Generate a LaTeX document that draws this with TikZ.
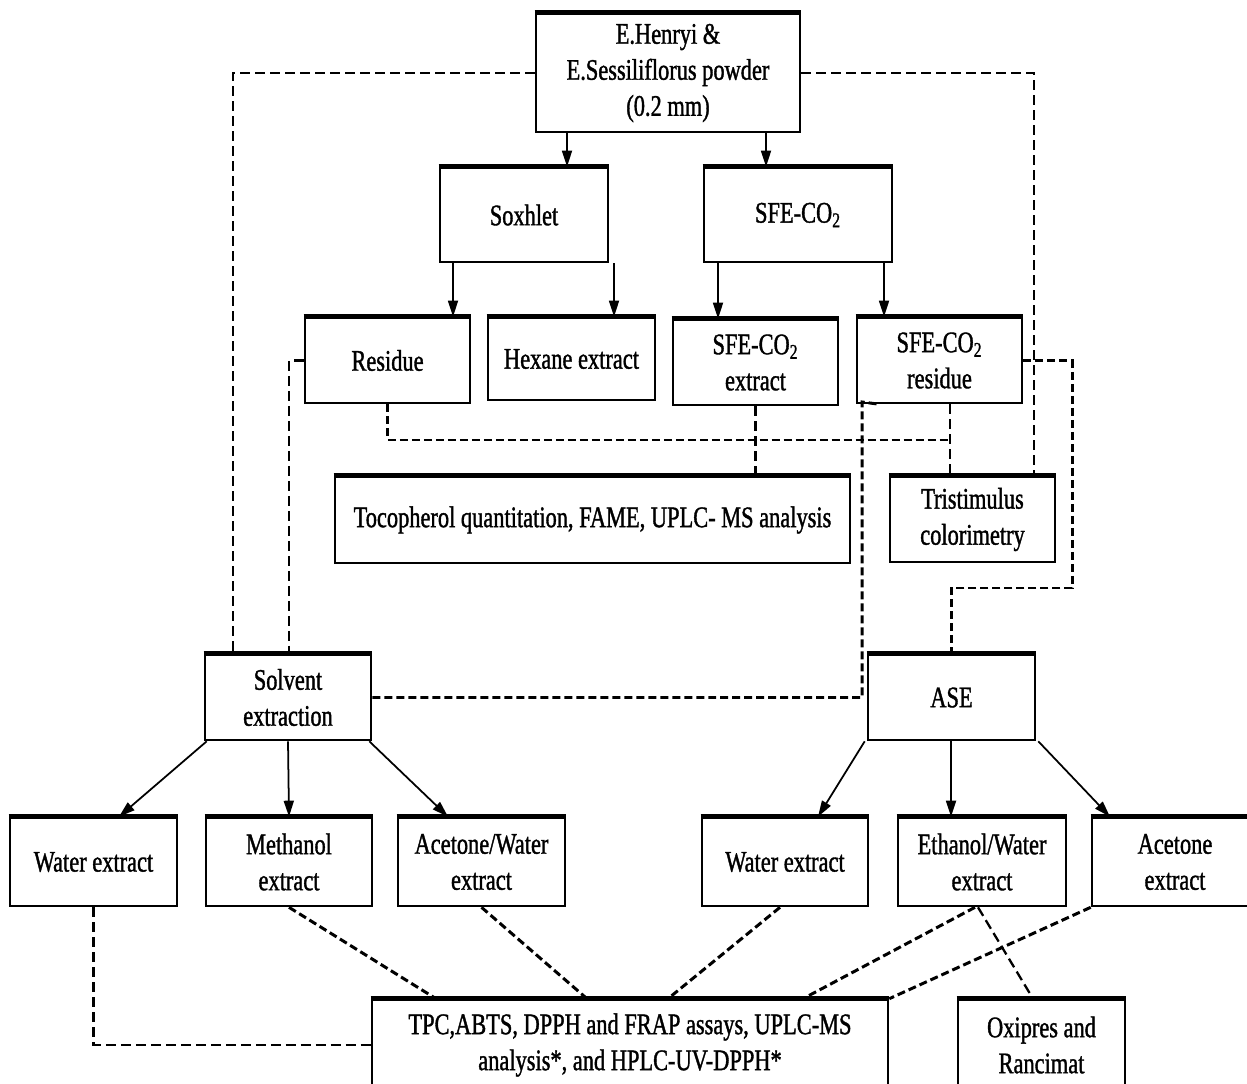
\documentclass[tikz,border=0pt]{standalone}
\usepackage{fontspec}
\setmainfont[FakeStretch=0.75,FakeBold=1.2]{Liberation Serif}
\usetikzlibrary{arrows.meta}
\tikzset{
  bx/.style={draw, line width=1.5pt, inner sep=0pt, align=center, font=\fontsize{17}{20.5}\selectfont},
  arr/.style={line width=1pt, -{Triangle[length=0.32cm,width=0.2cm]}},
  dsh/.style={line width=1.7pt, dash pattern=on 0.16cm off 0.08cm},
  dshthin/.style={line width=1.3pt, dash pattern=on 0.2cm off 0.1cm}
}
\begin{document}
\begin{tikzpicture}[x=0.02cm,y=-0.02cm]
\useasboundingbox (0,0) rectangle (1247,1084);
% nodes
\node[bx, minimum width=5.28cm, minimum height=2.36cm] (top) at (668,73) {E.Henryi \&\\E.Sessiliflorus powder\\(0.2 mm)};
\node[bx, minimum width=3.36cm, minimum height=1.88cm] (sox) at (524,215) {Soxhlet};
\node[bx, minimum width=3.76cm, minimum height=1.88cm] (sfe) at (798,215) {SFE-CO\textsubscript{2}};
\node[bx, minimum width=3.3cm, minimum height=1.7cm] (res) at (387.5,360.5) {Residue};
\node[bx, minimum width=3.34cm, minimum height=1.64cm] (hex) at (571.5,359) {Hexane extract};
\node[bx, minimum width=3.3cm, minimum height=1.7cm] (sfeext) at (755.5,362.5) {SFE-CO\textsubscript{2}\\extract};
\node[bx, minimum width=3.3cm, minimum height=1.7cm] (sferes) at (939.5,360.5) {SFE-CO\textsubscript{2}\\residue};
\node[bx, minimum width=10.3cm, minimum height=1.72cm] (toco) at (592.5,520) {Tocopherol quantitation, FAME, UPLC- MS analysis};
\node[bx, minimum width=3.3cm, minimum height=1.7cm] (tri) at (972.5,519.5) {Tristimulus\\colorimetry};
\node[bx, minimum width=3.32cm, minimum height=1.7cm] (solv) at (288,697.5) {Solvent\\extraction};
\node[bx, minimum width=3.34cm, minimum height=1.7cm] (ase) at (951.5,697.5) {ASE};
\node[bx, minimum width=3.34cm, minimum height=1.76cm] (wl) at (93.5,862) {Water extract};
\node[bx, minimum width=3.32cm, minimum height=1.76cm] (meth) at (289,862) {Methanol\\extract};
\node[bx, minimum width=3.34cm, minimum height=1.76cm] (acw) at (481.5,862) {Acetone/Water\\extract};
\node[bx, minimum width=3.32cm, minimum height=1.76cm] (wr) at (785,862) {Water extract};
\node[bx, minimum width=3.36cm, minimum height=1.76cm] (ethw) at (982,862) {Ethanol/Water\\extract};
\node[bx, minimum width=3.32cm, minimum height=1.76cm] (acet) at (1175,862) {Acetone\\extract};
\node[bx, minimum width=10.32cm, minimum height=1.8cm] (tpc) at (630,1045) {TPC,ABTS, DPPH and FRAP assays, UPLC-MS\\analysis*, and HPLC-UV-DPPH*};
\node[bx, minimum width=3.34cm, minimum height=1.8cm] (oxi) at (1041.5,1045) {Oxipres and\\Rancimat};
% thicker top edges
\foreach \nn in {top,sox,sfe,res,hex,sfeext,sferes,toco,tri,solv,ase,wl,meth,acw,wr,ethw,acet,tpc,oxi}{
  \draw[line width=2.6pt] (\nn.north west) -- (\nn.north east);
}
% solid arrows
\draw[arr] (top.south -| 567,0) -- (sox.north -| 567,0);
\draw[arr] (top.south -| 766,0) -- (sfe.north -| 766,0);
\draw[arr] (sox.south -| 453,0) -- (res.north -| 453,0);
\draw[arr] (sox.south -| 614,0) -- (hex.north -| 614,0);
\draw[arr] (sfe.south -| 718,0) -- (sfeext.north -| 718,0);
\draw[arr] (sfe.south -| 884,0) -- (sferes.north -| 884,0);
\draw[arr] ([xshift=0.06cm]solv.south west) -- (wl.north -| 119,0);
\draw[arr] (solv.south) -- (meth.north -| 289,0);
\draw[arr] ([xshift=-0.06cm]solv.south east) -- (acw.north -| 448,0);
\draw[arr] ([xshift=-0.04cm]ase.south west) -- (wr.north -| 818,0);
\draw[arr] (ase.south -| 951,0) -- (ethw.north -| 951,0);
\draw[arr] ([xshift=0.04cm]ase.south east) -- (acet.north -| 1110,0);
% dashed connectors
\draw[dshthin] (top.west) -| (solv.north -| 233,0);
\draw[dshthin] (top.east) -| (tri.north -| 1034,0);
\draw[dshthin] (res.west) -| (solv.north -| 289,0);
\draw[dsh] (res.south) |- (950,440);
\draw[dshthin] (sferes.south -| 950,0) -- (tri.north -| 950,0);
\draw[dshthin] (sfeext.south) -- (toco.north -| sfeext.south);
\draw[dsh] (solv.east) -| (862,690) -- (862,402) -- (sferes.south -| 880,0);
\draw[dsh] (sferes.east) -| (1072,588) -| (ase.north);
\draw[dshthin] (wl.south) |- (tpc.west);
\draw[dsh] (meth.south) -- (tpc.north -| 436,0);
\draw[dsh] (acw.south) -- (tpc.north -| 587,0);
\draw[dsh] (wr.south -| 780,0) -- (tpc.north -| 668,0);
\draw[dsh] (ethw.south -| 975,0) -- (tpc.north -| 803,0);
\draw[dshthin] (ethw.south -| 978,0) -- (oxi.north -| 1033,0);
\draw[dsh] (acet.south west) -- (tpc.north east);
\end{tikzpicture}
\end{document}
